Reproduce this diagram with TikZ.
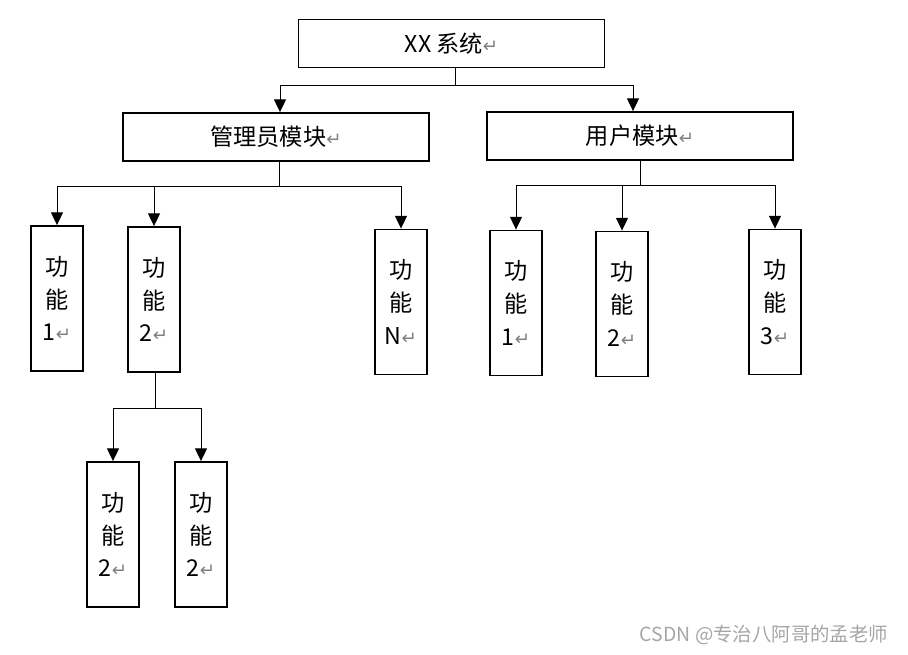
\documentclass[tikz,border=0pt]{standalone}
\usepackage{fontspec}
\setmainfont{Noto Sans CJK SC}
\newfontfamily\symfont{DejaVu Sans}
\usetikzlibrary{arrows.meta}
\newcommand{\pmark}{{\symfont\color{gray}\fontsize{13}{13}\selectfont ↵}}

\begin{document}
\begin{tikzpicture}[x=0.025cm,y=-0.025cm,
    modbox/.style={draw,line width=1.3pt,minimum width=7.65cm,minimum height=1.2cm,inner sep=0pt,font=\fontsize{16.5}{20}\selectfont},
    funbox/.style={draw,line width=1.3pt,minimum width=1.3cm,minimum height=3.625cm,inner sep=0pt,align=center,font=\fontsize{16.5}{23.4}\selectfont},
    arr/.style={-{Triangle[width=8.5pt,length=9pt]},line width=0.7pt}]
    \useasboundingbox (0,0) rectangle (908,655);
    % modules
    \node[modbox] (top) at (451.5,43.5) {XX 系统\pmark};
    \node[modbox] (admin) at (276,137) {管理员模块\pmark};
    \node[modbox] (user) at (640,136) {用户模块\pmark};
    % functions
    \node[funbox] (a1) at (57,298.5) {功\\能\\1\pmark};
    \node[funbox] (a2) at (154,299.5) {功\\能\\2\pmark};
    \node[funbox] (aN) at (401,302) {功\\能\\N\pmark};
    \node[funbox] (u1) at (516,303) {功\\能\\1\pmark};
    \node[funbox] (u2) at (622,304) {功\\能\\2\pmark};
    \node[funbox] (u3) at (775,302) {功\\能\\3\pmark};
    \node[funbox] (s1) at (113,534.5) {功\\能\\2\pmark};
    \node[funbox] (s2) at (201,534.5) {功\\能\\2\pmark};
    % connectors
    \draw[line width=0.7pt] ([xshift=0.09cm]top.south) -- ++(0,17) coordinate (j0);
    \draw[arr] (j0) -| ([xshift=0.1cm]admin.north);
    \draw[arr] (j0) -| ([xshift=-0.175cm]user.north);
    \draw[line width=0.7pt] ([xshift=0.075cm]admin.south) -- ++(0,25) coordinate (j1);
    \foreach \c in {a1,a2,aN} \draw[arr] (j1) -| (\c.north);
    \draw[line width=0.7pt] (user.south) -- ++(0,25) coordinate (j2);
    \foreach \c in {u1,u2,u3} \draw[arr] (j2) -| (\c.north);
    \draw[line width=0.7pt] ([xshift=0.025cm]a2.south) -- ++(0,36) coordinate (j3);
    \foreach \c in {s1,s2} \draw[arr] (j3) -| (\c.north);
    \node[anchor=east,text=gray!70,font=\fontsize{13.8}{16}\selectfont] (mark) at (893,635) {CSDN @专治八阿哥的孟老师};
\end{tikzpicture}
\end{document}
